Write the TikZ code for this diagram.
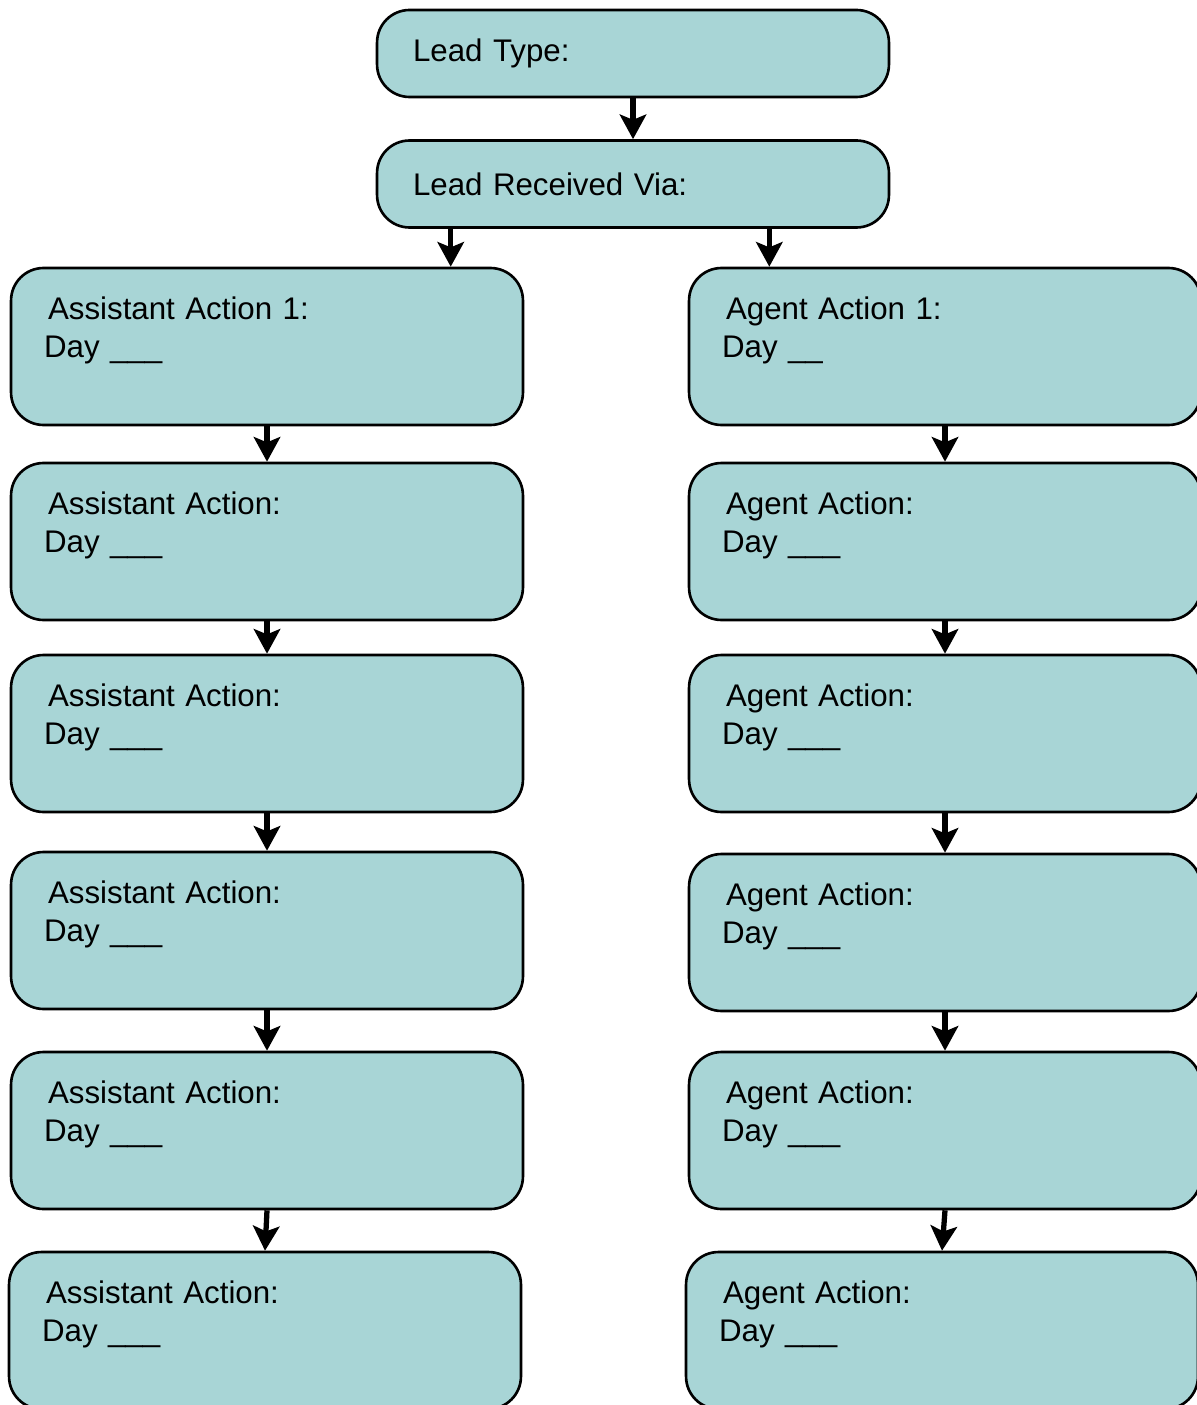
\documentclass[tikz,border=0pt]{standalone}
\usepackage{fontspec}
\setmainfont{Liberation Sans}
\usepackage{xcolor}
\usetikzlibrary{positioning, arrows.meta}
\definecolor{LeadTeal}{RGB}{168,213,214}
\tikzset{
  leadbox/.style={draw=black, line width=1.5pt, fill=LeadTeal, rounded corners=0.65cm,
    minimum height=1.74cm, text width=8.8cm, inner xsep=0.72cm, inner ysep=0pt,
    align=left, font=\fontsize{17.8}{21.8}\selectfont},
  actbox/.style={leadbox, minimum height=3.14cm, text width=8.92cm, inner xsep=0.66cm},
  flowarr/.style={-{Stealth[length=14pt, width=15pt, inset=3pt]}, line width=3pt, black},
}

\begin{document}
\begin{tikzpicture}[x=0.02cm, y=-0.02cm]
  \useasboundingbox (0,0) rectangle (1196,1405);
  % top of the flow
  \node[leadbox] (type) at (633,53.5) {Lead Type:};
  \node[leadbox] (via) at (633,184) {Lead Received Via:};
  % assistant column
  \node[actbox] (a1) at (267,346.5) {\hspace{0.08cm}Assistant Action 1:\\Day \_\_\_\\\mbox{}};
  \foreach \n/\x/\y in {2/267/541.5, 3/267/733.5, 4/267/930.5, 5/267/1130.5, 6/265/1330.5}
    \node[actbox] (a\n) at (\x,\y) {\hspace{0.08cm}Assistant Action:\\Day \_\_\_\\\mbox{}};
  % agent column
  \node[actbox] (g1) at (945,346.5) {\hspace{0.08cm}Agent Action 1:\\Day \_\_\\\mbox{}};
  \foreach \n/\x/\y in {2/945/541.5, 3/945/733.5, 4/945/932.5, 5/945/1130.5, 6/942/1330.5}
    \node[actbox] (g\n) at (\x,\y) {\hspace{0.08cm}Agent Action:\\Day \_\_\_\\\mbox{}};
  % connectors
  \draw[flowarr] (type.south) -- (via.north);
  \draw[flowarr] ([xshift=1.5cm]via.south west) -- ([xshift=1.5cm]via.south west |- a1.north);
  \draw[flowarr] ([xshift=-2.42cm]via.south east) -- ([xshift=-2.42cm]via.south east |- g1.north);
  \foreach \k [evaluate=\k as \n using int(\k+1)] in {1,...,5} {
    \draw[flowarr] (a\k.south) -- (a\n.north);
    \draw[flowarr] (g\k.south) -- (g\n.north);
  }
\end{tikzpicture}
\end{document}
